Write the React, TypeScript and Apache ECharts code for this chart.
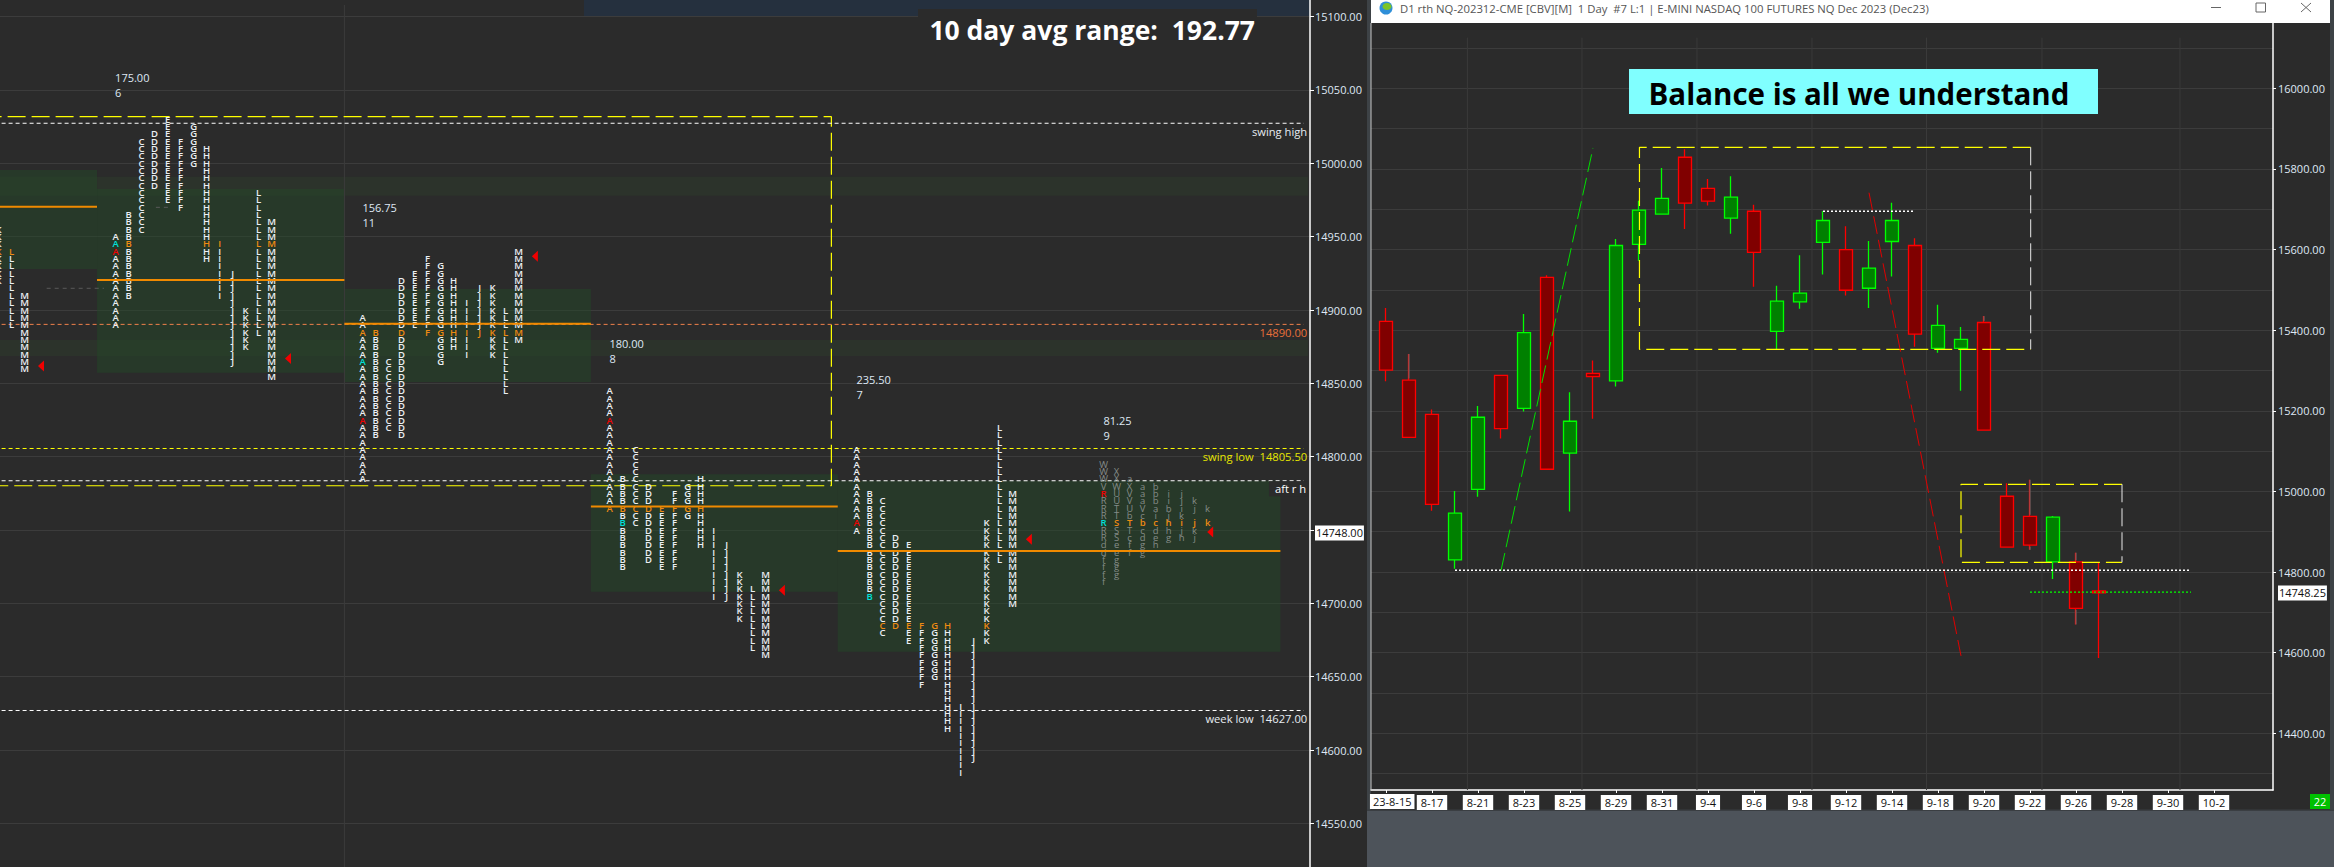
import React, { useEffect, useRef } from "react";
import * as echarts from "echarts";

// ---------- left (market profile) data ----------
const sessionStart = [-19, 0, 19, 38, 57, 76];
const session1Cols: [string, number, number, number][] = [
  ["K", 10, 14955, 14920], ["L", 11, 14940, 14890], ["M", 12, 14910, 14860],
];
const session2Cols: [string, number, number, number][] = [
  ["A", 0, 14950, 14890], ["B", 1, 14965, 14910], ["C", 2, 15015, 14955], ["D", 3, 15020, 14985],
  ["E", 4, 15030, 14975], ["F", 5, 15015, 14970], ["G", 6, 15025, 15000], ["H", 7, 15010, 14935],
  ["I", 8, 14945, 14910], ["J", 9, 14925, 14865], ["K", 10, 14900, 14875], ["L", 11, 14980, 14885],
  ["M", 12, 14960, 14855],
];
const session3Cols: [string, number, number, number][] = [
  ["A", 0, 14895, 14785], ["B", 1, 14885, 14815], ["C", 2, 14865, 14820], ["D", 3, 14920, 14815],
  ["E", 4, 14925, 14890], ["F", 5, 14935, 14885], ["G", 6, 14930, 14865], ["H", 7, 14920, 14875],
  ["I", 8, 14905, 14870], ["J", 9, 14915, 14885], ["K", 10, 14915, 14870], ["L", 11, 14900, 14845],
  ["M", 12, 14940, 14880],
];
const session4Cols: [string, number, number, number][] = [
  ["A", 0, 14845, 14765], ["B", 1, 14785, 14725], ["C", 2, 14805, 14755], ["D", 3, 14780, 14730],
  ["E", 4, 14765, 14725], ["F", 5, 14775, 14725], ["G", 6, 14780, 14760], ["H", 7, 14785, 14740],
  ["I", 8, 14750, 14705], ["J", 9, 14740, 14705], ["K", 10, 14720, 14690], ["L", 11, 14710, 14670],
  ["M", 12, 14720, 14665],
];
const session5Cols: [string, number, number, number][] = [
  ["A", 0, 14805, 14750], ["B", 1, 14775, 14705], ["C", 2, 14770, 14680], ["D", 3, 14745, 14685],
  ["E", 4, 14740, 14675], ["F", 5, 14685, 14645], ["G", 6, 14685, 14650], ["H", 7, 14685, 14615],
  ["I", 8, 14630, 14585], ["J", 9, 14675, 14595], ["K", 10, 14755, 14675], ["L", 11, 14820, 14730],
  ["M", 12, 14775, 14700],
];
const session6Strings: [string, number][] = [
  ["WWWVRRRRRRRddffff", 14795], ["XXWUUTTSSSeeggg", 14790], ["aXVVUbTTcff", 14785],
  ["aaaVcbcdgg", 14780], ["bbbaicdeh", 14780], ["iibjhhg", 14775], ["jjikijh", 14775],
  ["kj jkj", 14770], ["k k", 14765],
];
const orangeRows = [14940, 14945, 14885, 14765, 14685, 14755];
const specialRows: [number, number, number, string][] = [
  [1, 0, 14945, "cyan"], [1, 0, 14940, "red"], [2, 0, 14865, "cyan"], [2, 0, 14825, "red"],
  [3, 0, 14825, "red"], [3, 1, 14755, "cyan"], [4, 0, 14755, "red"], [4, 1, 14705, "cyan"],
  [5, 0, 14775, "red"], [5, 0, 14755, "cyan"],
];
const valueAreas: [number, number, number, number][] = [
  [-12, -1.43, 14995.4, 14928], [-1.43, 17.6, 14982.5, 14857.3], [17.6, 36.56, 14914.3, 14851],
  [36.56, 55.55, 14788, 14708], [55.55, 89.6, 14783.6, 14667],
];
const strips: [number, number, number, number][] = [
  [-12, 91.72, 14990.9, 14977.9], [-12, 91.72, 14879.6, 14868.7],
];
const pocLines: [number, number, number][] = [
  [-12, -1.43, 14970.4], [-1.43, 17.6, 14920.4], [17.6, 36.56, 14890.7], [36.56, 55.55, 14766], [55.55, 89.6, 14735.7],
];
const arrows: [number, number][] = [
  [-5.74, 14861.8], [13.26, 14867], [32.25, 14936.6], [51.25, 14709], [70.25, 14743.7], [84.2, 14748.7],
];
const sessionStats: [number, number, string][] = [
  [0, 15053.7, "175.00\n6"], [19.03, 14964.6, "156.75\n11"], [38.03, 14872.3, "180.00\n8"],
  [57.03, 14847.6, "235.50\n7"], [76.03, 14819.4, "81.25\n9"],
];
const leftTicks = [14550, 14600, 14650, 14700, 14750, 14800, 14850, 14900, 14950, 15000, 15050, 15100];
const leftLabels = [14550, 14600, 14650, 14700, 14748, 14800, 14850, 14900, 14950, 15000, 15050, 15100];
const boxRect: [number, number][] = [[-12, 15031.8], [55.06, 15031.8], [55.06, 14780.2], [-12, 14780.2]];
const levelLines: [number, number, string, string][] = [
  [15027.3, 91.4, "swing high", "#e6ebf2"],
  [14890.2, 91.4, "14890.00", "#e8703a"],
  [14805.6, 91.4, "swing low  14805.50", "#e6e600"],
  [14783.6, 91.4, "aft r h", "#ffffff"],
  [14627, 91.4, "week low  14627.00", "#e6ebf2"],
];

// ---------- right (daily candle) data ----------
const candleDates = ["23-8-15", "8-16", "8-17", "8-18", "8-21", "8-22", "8-23", "8-24", "8-25", "8-28", "8-29", "8-30", "8-31", "9-1", "9-4", "9-5", "9-6", "9-7", "9-8", "9-11", "9-12", "9-13", "9-14", "9-15", "9-18", "9-19", "9-20", "9-21", "9-22", "9-25", "9-26", "9-27", "9-28", "9-29", "9-30", "10-1", "10-2"];
const candleOpen = [15422, 15276, 15191, 14830, 15005, 15288, 15206, 15531, 15095, 15293, 15274, 15613, 15688, 15829, 15752, 15678, 15695, 15397, 15470, 15618, 15600, 15504, 15620, 15610, 15355, 15355, 15419, 14988, 14938, 14825, 14825, 14753];
const candleClose = [15301, 15134, 14968, 14946, 15184, 15156, 15394, 15055, 15174, 15285, 15610, 15698, 15727, 15715, 15720, 15730, 15593, 15472, 15492, 15672, 15499, 15554, 15672, 15390, 15412, 15377, 15152, 14862, 14867, 14936, 14710, 14748.25];
const candleLow = [15273, 15134, 14952, 14808, 14987, 15131, 15198, 15055, 14950, 15180, 15260, 15572, 15688, 15651, 15709, 15639, 15508, 15353, 15453, 15538, 15486, 15455, 15533, 15359, 15344, 15250, 15152, 14862, 14855, 14783, 14670, 14587];
const candleHigh = [15455, 15341, 15203, 15001, 15212, 15288, 15440, 15536, 15246, 15325, 15626, 15721, 15802, 15849, 15775, 15782, 15711, 15510, 15586, 15695, 15658, 15621, 15716, 15628, 15463, 15408, 15435, 15020, 15029, 14939, 14848, 14825];
const greyWicks: [number, number, number][] = [
  [1, 15341, 15280], [26, 15435, 15423], [28, 15029, 14942], [28, 14863, 14855], [30, 14848, 14829], [30, 14706, 14670],
];
const rightSplit = [14300, 14400, 14500, 14600, 14700, 14800, 14900, 15000, 15100, 15200, 15300, 15400, 15500, 15600, 15700, 15800, 15900, 16000, 16100];
const rightLabeled = [14400, 14600, 14748.25, 14800, 15000, 15200, 15400, 15600, 15800, 16000];
const rightMajorTicks = [14400, 14600, 14800, 15000, 15200, 15400, 15600, 15800, 16000];
const dateTicks = [0, 2, 4, 6, 8, 10, 12, 14, 16, 18, 20, 22, 24, 26, 28, 30, 32, 34, 36];
const weekLines = [3.54, 8.52, 13.52, 18.52, 23.5, 28.52, 34.52];
const balanceBox1: [number, number][] = [[28.03, 15853.6], [11.02, 15853.6], [11.02, 15352.6], [28.03, 15352.6]];
const balanceBox1Right: [number, number][] = [[28.03, 15853.6], [28.03, 15352.6]];
const balanceBox2: [number, number][] = [[32, 15017.7], [25, 15017.7], [25, 14824], [32, 14824]];
const balanceBox2Right: [number, number][] = [[32, 15017.7], [32, 14824]];
const greenTrend: [number, number][] = [[5, 14803.5], [9, 15852]];
const redTrend: [number, number][] = [[21, 15741], [25, 14592]];
const dottedHigh: [number, number][] = [[19, 15695], [23, 15695]];
const dottedLow: [number, number][] = [[3, 14804.4], [35, 14804.4]];
const dottedLast: [number, number][] = [[28, 14750], [35, 14750]];

// ---------- scales ----------
const L_MIN = 14520.31, L_MAX = 15111.32, LX_MIN = -8.892, LX_MAX = 91.877;
const R_MIN = 14259.3, R_MAX = 16162, RX_MIN = -0.652, RX_MAX = 38.565;
const SANS = '"Open Sans", "Noto Sans", sans-serif';
const C_TEXT = "#dfe8f4";
const C_GRID = "#3c3c3c";
const LETTER_COLOR: Record<string, string> = { white: "#eceff3", dim: "#858c88", orange: "#ee8a12", red: "#f00000", cyan: "#00e0d8" };

function buildLetters() {
  const buckets: Record<string, any[]> = { white: [], dim: [], orange: [], red: [], cyan: [] };
  const put = (s: number, col: number, price: number, letter: string, base: string) => {
    const sp = specialRows.find((r) => r[0] === s && r[1] === col && r[2] === price);
    const key = sp ? sp[3] : price === orangeRows[s] ? "orange" : base;
    buckets[key].push([sessionStart[s] + col, price, letter]);
  };
  [session1Cols, session2Cols, session3Cols, session4Cols, session5Cols].forEach((cols, s) => {
    cols.forEach(([letter, col, top, bottom]) => {
      for (let p = top; p >= bottom; p -= 5) put(s, col, p, letter, "white");
    });
  });
  session6Strings.forEach(([str, top], col) => {
    str.split("").forEach((ch, i) => {
      if (ch !== " ") put(5, col, top - i * 5, ch, "dim");
    });
  });
  return buckets;
}

function lineS(axis: number, pts: [number, number][], color: string, width: number, dash: any, z = 5) {
  return {
    type: "line", xAxisIndex: axis, yAxisIndex: axis === 0 ? 0 : 1, data: pts, showSymbol: false, symbol: "none",
    silent: true, z, lineStyle: { color, width, type: dash }, animation: false,
  };
}

function rectS(rows: [number, number, number, number][], fill: string, z: number) {
  return {
    type: "custom", xAxisIndex: 0, yAxisIndex: 0, silent: true, z, data: rows,
    encode: { x: [0, 1], y: [2, 3] },
    renderItem: (_: any, api: any) => {
      const a = api.coord([api.value(0), api.value(2)]);
      const b = api.coord([api.value(1), api.value(3)]);
      return { type: "rect", shape: { x: a[0], y: a[1], width: b[0] - a[0], height: b[1] - a[1] }, style: { fill } };
    },
  };
}

function textS(rows: any[], label: any, z = 8) {
  return {
    type: "scatter", xAxisIndex: 0, yAxisIndex: 0, data: rows, symbolSize: 1, silent: true, z, clip: false,
    itemStyle: { color: "rgba(0,0,0,0)", opacity: 1 },
    label: { show: true, formatter: (p: any) => p.value[2], ...label },
  };
}

export default function App() {
  const ref = useRef<HTMLDivElement>(null);
  useEffect(() => {
    const chart = echarts.init(ref.current!, null, { renderer: "svg" });
    const letters = buildLetters();
    const series: any[] = [];
    series.push(rectS(strips, "rgba(48,84,44,0.2)", 1));
    series.push(rectS(valueAreas, "rgba(36,72,40,0.5)", 1));
    series.push(lineS(0, [[17.6, 15107.9], [17.6, L_MIN]], "#3c3c3c", 1, "solid", 2));
    series.push(lineS(0, [[-5.3, 14914.8], [-0.9, 14914.8]] as any, "#5a5a5a", 1, [4, 4], 3));
    series.push(lineS(0, [[3.1, 14970], [4.2, 14970]] as any, "#5a5a5a", 1, [4, 4], 3));
    series.push(lineS(0, boxRect, "#ffff00", 1.2, [18, 6], 6));
    levelLines.forEach(([p, xEnd, , color]) => {
      const dash = [4, 3];
      series.push(lineS(0, [[-12, p], [xEnd, p]], color === "#e8703a" ? "#f0804a" : color === "#e6e600" ? "#ffff00" : "#ffffff", 1, dash, 6));
    });
    pocLines.forEach(([a, b, p]) => series.push(lineS(0, [[a, p], [b, p]], "#f08a00", 2, "solid", 9)));
    Object.keys(letters).forEach((k) => {
      series.push(textS(letters[k], { color: LETTER_COLOR[k], fontSize: 9.5, fontFamily: SANS, fontWeight: k === "dim" ? 400 : 600 }));
    });
    series.push({
      type: "scatter", xAxisIndex: 0, yAxisIndex: 0, data: arrows, silent: true, z: 9,
      symbol: "path://M0 5.5L6 0L6 11Z", symbolSize: [6, 11], itemStyle: { color: "#f00000", opacity: 1 },
    });
    series.push(textS(sessionStats, { color: "#dfe8f4", fontSize: 11, lineHeight: 15, fontFamily: SANS, position: "right", distance: -1 }));
    levelLines.forEach(([p, xEnd, text, color]) => {
      const isBox = text === "aft r h";
      series.push(textS([[xEnd + 0.3, p, text]], {
        color, fontSize: 11.2, fontFamily: SANS, position: "left", distance: 0, offset: [0, 8],
        ...(isBox ? { backgroundColor: "#2b2b2b", padding: [1, 1, 3, 6] } : {}),
      }, 10));
    });

    // right chart
    weekLines.forEach((x) => series.push(lineS(1, [[x, 16125.6], [x, R_MIN]], "#3a3a3a", 1, "solid", 1)));
    series.push({
      type: "candlestick", xAxisIndex: 1, yAxisIndex: 1, silent: true, z: 4, barWidth: 13,
      encode: { x: 0, y: [1, 2, 3, 4] },
      data: candleOpen.map((o, i) => [i, o, candleClose[i], candleLow[i], candleHigh[i]]),
      itemStyle: { color: "#008000", color0: "#800000", borderColor: "#00ff00", borderColor0: "#ff0000", borderWidth: 1.3 },
    });
    greyWicks.forEach(([x, hi, lo]) => series.push(lineS(1, [[x, hi], [x, lo]], "#6e6e6e", 1, "solid", 5)));
    series.push(lineS(1, balanceBox1, "#ffff00", 1.2, [18, 6], 6));
    series.push(lineS(1, balanceBox1Right, "#e8e8e8", 1, [18, 6], 6));
    series.push(lineS(1, balanceBox2, "#ffff00", 1.2, [18, 6], 6));
    series.push(lineS(1, balanceBox2Right, "#e8e8e8", 1, [18, 6], 6));
    series.push(lineS(1, greenTrend, "#00e000", 1, [18, 6], 6));
    series.push(lineS(1, redTrend, "#e00000", 1, [18, 6], 6));
    series.push(lineS(1, dottedHigh, "#ffffff", 1.3, [2, 2], 6));
    series.push(lineS(1, dottedLow, "#ffffff", 1.3, [2, 2], 6));
    series.push(lineS(1, dottedLast, "#00ff00", 1.3, [2, 2], 6));
    series.push({
      type: "scatter", xAxisIndex: 1, yAxisIndex: 1, data: [[0.27, R_MIN, candleDates[0]]], symbolSize: 1, silent: true, z: 12,
      itemStyle: { color: "rgba(0,0,0,0)", opacity: 1 },
      label: { show: true, formatter: (p: any) => p.value[2], position: "inside", offset: [0, 11.6], color: "#111", backgroundColor: "#ffffff", padding: [2, 3], fontSize: 11, fontFamily: SANS },
    });

    const option: any = {
      animation: false,
      backgroundColor: "#2b2b2b",
      grid: [
        { left: 0, top: 0, width: 1310, height: 867 },
        { left: 1371, top: 23, width: 902, height: 767 },
      ],
      xAxis: [
        { type: "value", gridIndex: 0, min: LX_MIN, max: LX_MAX, show: false },
        {
          type: "value", gridIndex: 1, min: RX_MIN, max: RX_MAX, position: "bottom",
          axisLine: { onZero: false, lineStyle: { color: "#ffffff", width: 1.5 } },
          axisTick: { customValues: dateTicks, length: 3, lineStyle: { color: "#ffffff" } },
          splitLine: { show: false },
          axisLabel: {
            customValues: dateTicks.slice(1), margin: 5, color: "#111", backgroundColor: "#ffffff", padding: [2, 4], fontSize: 11, fontFamily: SANS,
            formatter: (v: number) => candleDates[v],
          },
        },
      ],
      yAxis: [
        {
          type: "value", gridIndex: 0, min: L_MIN, max: L_MAX, position: "right",
          axisLine: { show: true, onZero: false, lineStyle: { color: "#ffffff", width: 1.5 } },
          axisTick: { show: true, customValues: leftTicks, length: 4, lineStyle: { color: "#ffffff" } },
          splitLine: { show: true, lineStyle: { color: C_GRID, width: 1 } },
          axisLabel: {
            customValues: leftLabels, margin: 5, color: C_TEXT, fontSize: 11, fontFamily: SANS,
            formatter: (v: number) => (v === 14748 ? "{box|14748.00}" : v.toFixed(2)),
            rich: { box: { backgroundColor: "#ffffff", color: "#111", padding: [2, 1], fontSize: 11, fontFamily: SANS } },
          },
        },
        {
          type: "value", gridIndex: 1, min: R_MIN, max: R_MAX, position: "right",
          axisLine: { show: true, onZero: false, lineStyle: { color: "#ffffff", width: 1.5 } },
          axisTick: { show: false, customValues: rightSplit },
          splitLine: { show: true, lineStyle: { color: C_GRID, width: 1 } },
          axisLabel: {
            customValues: rightLabeled, margin: 5, color: C_TEXT, fontSize: 11, fontFamily: SANS,
            formatter: (v: number) => (v === 14748.25 ? "{box|14748.25}" : v.toFixed(2)),
            rich: { box: { backgroundColor: "#ffffff", color: "#111", padding: [2, 1], fontSize: 11, fontFamily: SANS } },
          },
        },
        {
          type: "value", gridIndex: 1, min: R_MIN, max: R_MAX, position: "right",
          axisLine: { show: false, onZero: false }, splitLine: { show: false }, axisLabel: { show: false },
          axisTick: { show: true, customValues: rightMajorTicks, length: 3, lineStyle: { color: "#ffffff" } },
        },
      ],
      series,
      graphic: [
        // chrome
        { type: "rect", z: 0, shape: { x: 584, y: 0, width: 726, height: 16 }, style: { fill: "#25303e" } },
        { type: "rect", z: 0, shape: { x: 1367, y: 0, width: 4, height: 867 }, style: { fill: "#3d4246" } },
        { type: "rect", z: 0, shape: { x: 2330, y: 0, width: 4, height: 811 }, style: { fill: "#3d4246" } },
        { type: "rect", z: 0, shape: { x: 1367, y: 811, width: 967, height: 56 }, style: { fill: "#4d535a" } },
        { type: "rect", z: 0, shape: { x: 1367, y: 809.5, width: 967, height: 1.5 }, style: { fill: "#3a3e42" } },
        { type: "rect", z: 20, shape: { x: 1371, y: 0, width: 959, height: 23 }, style: { fill: "#ffffff" } },
        { type: "rect", z: 20, shape: { x: 1370.5, y: 23, width: 1, height: 767 }, style: { fill: "#c8c8c8" } },
        // window controls
        { type: "circle", z: 21, shape: { cx: 1386, cy: 8, r: 6.5 }, style: { fill: "#2f8fd8" } },
        { type: "ellipse", z: 22, shape: { cx: 1387, cy: 6.5, rx: 4.5, ry: 3.5 }, style: { fill: "#7cc428" } },
        { type: "text", z: 21, style: { x: 1400, y: 8.5, text: "D1 rth NQ-202312-CME [CBV][M]  1 Day  #7 L:1 | E-MINI NASDAQ 100 FUTURES NQ Dec 2023 (Dec23)", fill: "#555555", font: `11.3px ${SANS}`, textVerticalAlign: "middle" } },
        { type: "line", z: 21, shape: { x1: 2211, y1: 7.5, x2: 2221, y2: 7.5 }, style: { stroke: "#666", lineWidth: 1 } },
        { type: "rect", z: 21, shape: { x: 2256, y: 3, width: 9.5, height: 9 }, style: { fill: "none", stroke: "#666", lineWidth: 1 } },
        { type: "line", z: 21, shape: { x1: 2301, y1: 3, x2: 2311, y2: 12 }, style: { stroke: "#666", lineWidth: 1 } },
        { type: "line", z: 21, shape: { x1: 2311, y1: 3, x2: 2301, y2: 12 }, style: { stroke: "#666", lineWidth: 1 } },
        // headline boxes
        { type: "rect", z: 30, shape: { x: 918, y: 9, width: 339, height: 40 }, style: { fill: "#2b2b2b" } },
        { type: "text", z: 31, style: { x: 1255, y: 30, text: "10 day avg range:  192.77", fill: "#ffffff", font: `bold 26.5px ${SANS}`, textAlign: "right", textVerticalAlign: "middle" } },
        { type: "rect", z: 30, shape: { x: 1629, y: 69, width: 469, height: 45 }, style: { fill: "#80ffff" } },
        { type: "text", z: 31, style: { x: 1859, y: 93, text: "Balance is all we understand", fill: "#000000", font: `bold 29.5px ${SANS}`, textAlign: "center", textVerticalAlign: "middle" } },
        { type: "rect", z: 30, shape: { x: 2310, y: 794, width: 20, height: 15 }, style: { fill: "#00c000" } },
        { type: "text", z: 31, style: { x: 2320, y: 801.5, text: "22", fill: "#ffffff", font: `11px ${SANS}`, textAlign: "center", textVerticalAlign: "middle" } },
      ],
    };
    chart.setOption(option);
    return () => chart.dispose();
  }, []);
  return <div ref={ref} style={{ position: "fixed", left: 0, top: 0, width: 2334, height: 867 }} />;
}
